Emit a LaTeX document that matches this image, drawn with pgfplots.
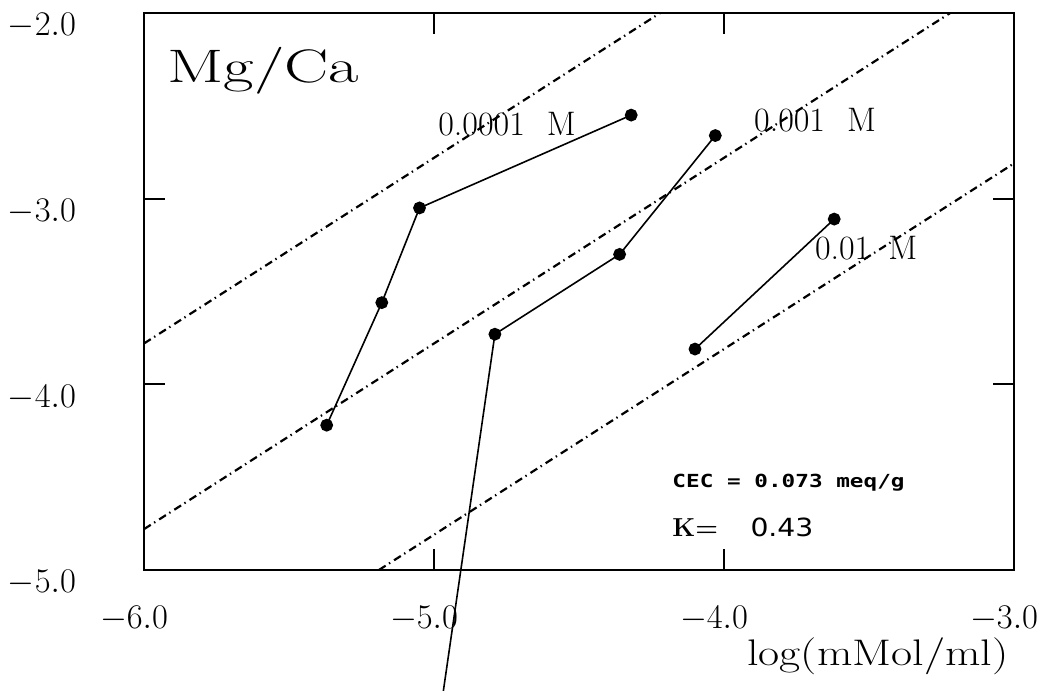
\documentclass[border=0pt]{standalone}
\usepackage{pgfplots}
\pgfplotsset{compat=1.18}
\usepackage{fontspec}
\newfontfamily\cecfont{DejaVu Sans Mono}
\newfontfamily\kfont{DejaVu Sans}

% exchange isotherm data, log(Mg/Ca) in solution vs log concentration
\pgfplotstableread{
x      y
-5.37  -4.22
-5.18  -3.56
-5.05  -3.05
-4.32  -2.55
}\seriesA
\pgfplotstableread{
x      y
-5.00  -6.00
-4.79  -3.73
-4.36  -3.30
-4.03  -2.66
}\seriesB
\pgfplotstableread{
x      y
-4.10  -3.81
-3.62  -3.11
}\seriesC

\begin{document}
\begin{tikzpicture}
\useasboundingbox (-72pt,-60pt) rectangle (454.5pt,285pt);
\begin{axis}[
  scale only axis,
  width=435pt, height=278.5pt,
  xmin=-6, xmax=-3, ymin=-5, ymax=-2,
  clip=false,
  axis line style={line width=1.3pt},
  xtick={-6,-5,-4,-3}, ytick={-5,-4,-3,-2},
  xticklabels={$-6.0$,$-5.0$,$-4.0$,$-3.0$},
  yticklabels={$-5.0$,$-4.0$,$-3.0$,$-2.0$},
  tick align=inside,
  major tick length=10.5pt,
  tick style={line width=1pt, black},
  ticklabel style={font=\fontsize{17}{19}\selectfont},
  xticklabel style={yshift=-14.5pt, xshift=-5pt},
  yticklabel style={xshift=-30.5pt, yshift=-6.5pt},
  every axis plot/.append style={black},
  refline/.style={line width=1.1pt, dash pattern=on 4pt off 2pt on 0.7pt off 2.3pt},
]
% ideal-exchange reference lines, K = 0.43
\addplot[refline] coordinates {(-6,-3.78) (-4.22,-2)};
\addplot[refline] coordinates {(-6,-4.78) (-3.22,-2)};
\addplot[refline] coordinates {(-5.19,-5) (-3,-2.81)};

% measured points
\addplot[line width=0.8pt, mark=*, mark size=2.8pt] table[x=x,y=y] {\seriesA};
\addplot[line width=0.8pt, mark=*, mark size=2.8pt] table[x=x,y=y] {\seriesB};
\addplot[line width=0.8pt, mark=*, mark size=2.8pt] table[x=x,y=y] {\seriesC};

% annotations
\node[anchor=base west, inner sep=0pt] at (axis cs:-5.921,-2.372)
  {\scalebox{1.41}[1]{\fontsize{23.5}{27}\selectfont Mg/Ca}};
\node[anchor=center, inner sep=0pt] at (axis cs:-4.748,-2.598)
  {\fontsize{17}{19}\selectfont 0.0001\hspace{11pt}M};
\node[anchor=center, inner sep=0pt] at (axis cs:-3.686,-2.576)
  {\fontsize{17}{19}\selectfont 0.001\hspace{11pt}M};
\node[anchor=center, inner sep=0pt] at (axis cs:-3.510,-3.266)
  {\fontsize{17}{19}\selectfont 0.01\hspace{9pt}M};
\node[anchor=base west, inner sep=0pt] at (axis cs:-4.179,-4.553)
  {\scalebox{1.26}[1]{\cecfont\bfseries\fontsize{9}{11}\selectfont CEC = 0.073 meq/g}};
\node[anchor=base west, inner sep=0pt] at (axis cs:-4.179,-4.822)
  {\fontsize{13}{15}\selectfont\bfseries K=};
\node[anchor=base west, inner sep=0pt] at (axis cs:-3.910,-4.822)
  {\scalebox{1.13}[1]{\kfont\fontsize{12.5}{15}\selectfont 0.43}};
\node[anchor=base west, inner sep=0pt] at (axis cs:-3.921,-5.512)
  {\scalebox{1.24}[1]{\fontsize{18.5}{21}\selectfont log(mMol/ml)}};
\end{axis}
\end{tikzpicture}
\end{document}
